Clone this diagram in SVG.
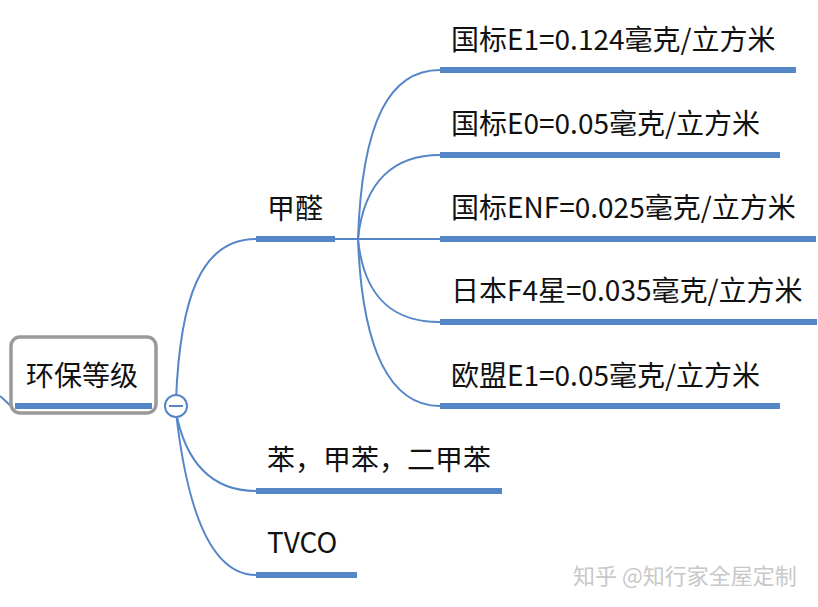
<svg xmlns="http://www.w3.org/2000/svg" width="818" height="607" viewBox="0 0 818 607">
<style>
text{font-family:"Noto Sans CJK SC","Noto Sans",sans-serif;fill:#111;font-size:28px}
.ul{stroke:#5586c8;stroke-width:6;fill:none}
.c{stroke:#5586c8;stroke-width:2;fill:none}
.wm{fill:#c8c8c8;font-size:22px}
</style>
<rect width="818" height="607" fill="#fff"/>
<g id="connectors">
<path class="c" d="M0,396 C6,401 10,406 14,408"/>
<path class="c" d="M176,400 C180,300 200,239 256,239"/>
<path class="c" d="M176,412 C185,460 210,491 256,491"/>
<path class="c" d="M176,412 C188,520 215,575 256,575"/>
<path class="c" d="M335,239 L440,239"/>
<path class="c" d="M358,239 C362,120 390,70 440,70"/>
<path class="c" d="M358,239 C364,180 395,155 440,155"/>
<path class="c" d="M358,239 C364,300 395,322 440,322"/>
<path class="c" d="M358,239 C362,350 390,406 440,406"/>
</g>
<g id="root">
<rect x="11" y="337" width="145" height="76" rx="9" fill="#fff" stroke="#9a9a9a" stroke-width="3.5"/>
<line class="ul" x1="15" y1="406" x2="152" y2="406"/>
<text x="82" y="386" text-anchor="middle">环保等级</text>
</g>
<g id="collapse">
<circle cx="176" cy="406" r="11" fill="#fff" stroke="#5586c8" stroke-width="2"/>
<line x1="169" y1="406" x2="183" y2="406" stroke="#5586c8" stroke-width="2"/>
</g>
<g id="n-formaldehyde">
<line class="ul" x1="256" y1="239" x2="335" y2="239"/>
<text x="267" y="219">甲醛</text>
</g>
<g id="n-e1">
<line class="ul" x1="440" y1="70" x2="796" y2="70"/>
<text x="451" y="50">国标E1=0.124毫克/立方米</text>
</g>
<g id="n-e0">
<line class="ul" x1="440" y1="155" x2="780" y2="155"/>
<text x="451" y="134">国标E0=0.05毫克/立方米</text>
</g>
<g id="n-enf">
<line class="ul" x1="440" y1="239" x2="816" y2="239"/>
<text x="451" y="218">国标ENF=0.025毫克/立方米</text>
</g>
<g id="n-jp">
<line class="ul" x1="440" y1="322" x2="817" y2="322"/>
<text x="451" y="301">日本F4星=0.035毫克/立方米</text>
</g>
<g id="n-eu">
<line class="ul" x1="440" y1="406" x2="780" y2="406"/>
<text x="451" y="386">欧盟E1=0.05毫克/立方米</text>
</g>
<g id="n-benzene">
<line class="ul" x1="256" y1="491" x2="502" y2="491"/>
<text x="267" y="470">苯，甲苯，二甲苯</text>
</g>
<g id="n-tvco">
<line class="ul" x1="256" y1="575" x2="357" y2="575"/>
<text x="267" y="553">TVCO</text>
</g>
<text class="wm" x="573" y="584">知乎 @知行家全屋定制</text>
</svg>
